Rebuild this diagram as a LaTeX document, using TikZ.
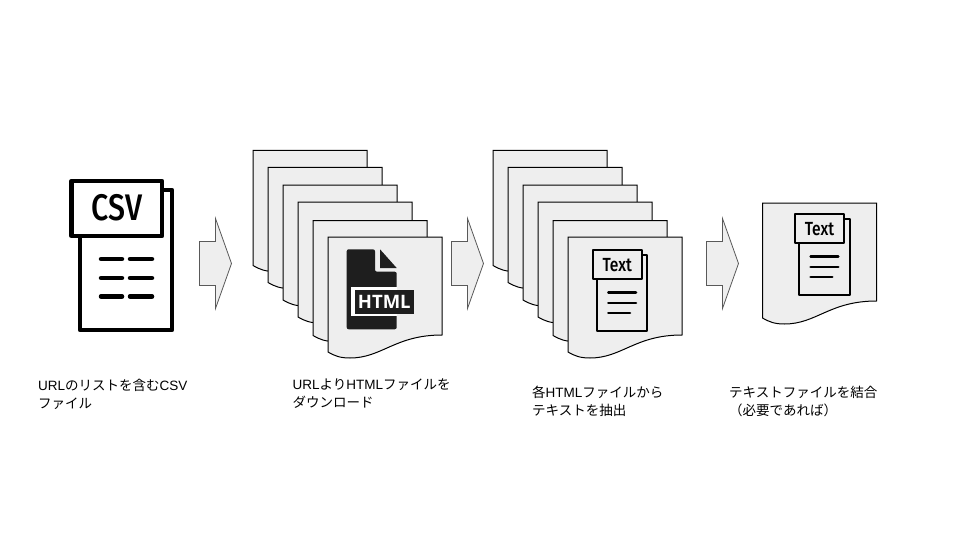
\documentclass[tikz,border=0pt]{standalone}
\usepackage{fontspec}
\setmainfont{Noto Sans CJK JP}
\newfontfamily\lat{Liberation Sans}
\newfontfamily\iconfont{Fira Sans Medium}
\newfontfamily\htmlfont{Open Sans}
\definecolor{pagegray}{HTML}{EEEEEE}
\definecolor{icondark}{HTML}{1E1E1E}
\tikzset{
	docpage/.style={draw=black,fill=pagegray,line width=1pt},
	stepshape/.style={draw=black!65,fill=pagegray,line width=0.8pt},
	labeltext/.style={anchor=north west,align=left,inner sep=0pt,font=\fontsize{13.5}{18}\selectfont},
	iconline/.style={line width=#1,line cap=round},
}
\newcommand{\docsheet}{(0,0) -- (114,0) -- (114,98) .. controls (67,98) and (54,121) .. (22,121) .. controls (12,121) and (7,119) .. (0,115) -- cycle}
\newcommand{\stepsign}{(0,23) -- (16,23) -- (16,0) -- (32,45) -- (16,90) -- (16,67) -- (0,67) -- cycle}
\newcommand{\texticon}[1]{
	\begin{scope}[shift={#1},line join=round]
		\draw [line width=2.2pt] (4,5) rectangle (54.6,80.7);
		\draw [line width=2.2pt,fill=pagegray] (0,0) rectangle (49,29.3);
		\node[inner sep=0pt,font=\iconfont\fontsize{19}{19}\selectfont,xscale=0.82] at (24.5,15.5) {Text};
		\draw [iconline=2.5pt] (15.6,42.3) -- (43.3,42.3);
		\draw [iconline=2.5pt] (15.6,52.8) -- (43.3,52.8);
		\draw [iconline=2.5pt] (15.6,63) -- (37.3,63);
	\end{scope}
}
\begin{document}
\begin{tikzpicture}[x=1pt,y=-1pt]
	\useasboundingbox (0,0) rectangle (960,540);
	% csv file
	\begin{scope}[line join=round]
		\draw [line width=4.5pt] (80,190) rectangle (172,330);
		\draw [line width=4.5pt,fill=white] (71.7,181) rectangle (162,236);
		\node (csvname) [inner sep=0pt,font=\iconfont\fontsize{37}{37}\selectfont,xscale=0.82] at (117,208) {CSV};
		\foreach \ly in {259,278,296.5} {
			\draw [iconline=4.5pt] (101,\ly) -- (122,\ly);
			\draw [iconline=4.5pt] (130,\ly) -- (152,\ly);
		}
	\end{scope}
	% arrows
	\foreach \ax in {199.5,451.5,706.5}
		\draw [stepshape,shift={(\ax,218.5)}] \stepsign;
	% html pages
	\foreach \px/\py in {253/150.5,268/167.5,283/185,298/202,313/220.5,328/237}
		\draw [docpage,shift={(\px,\py)}] \docsheet;
	\fill [icondark,rounded corners=2pt] (346.7,249.3) -- (375,249.3) -- (375,271.7) -- (396.7,271.7) -- (396.7,329.3) -- (346.7,329.3) -- cycle;
	\fill [icondark] (380,249.3) -- (396.7,268) -- (380,268) -- cycle;
	\fill [white] (351,286.5) rectangle (397,316);
	\fill [icondark] (354.5,289.5) rectangle (414,313.5);
	\node (htmlname) [white,inner sep=0pt,font=\htmlfont\bfseries\fontsize{18.5}{18}\selectfont] at (384.3,301.5) {HTML};
	% text pages
	\foreach \px/\py in {493/150.5,508/167.5,523/185,538/202,553/220.5,568/237}
		\draw [docpage,shift={(\px,\py)}] \docsheet;
	\texticon{(592.7,250)}
	% joined page
	\draw [docpage,shift={(762.5,203)}] \docsheet;
	\texticon{(795,214)}
	% labels
	\node (csvlabel) [labeltext] at (38,378.5) {{\lat URL}のリストを含む{\lat CSV}\\ファイル};
	\node (htmllabel) [labeltext] at (292.5,378.5) {{\lat URL}より{\lat HTML}ファイルを\\ダウンロード};
	\node (textlabel) [labeltext] at (532,386) {各{\lat HTML}ファイルから\\テキストを抽出};
	\node (joinlabel) [labeltext] at (729,386) {テキストファイルを結合\\（必要であれば）};
\end{tikzpicture}
\end{document}
